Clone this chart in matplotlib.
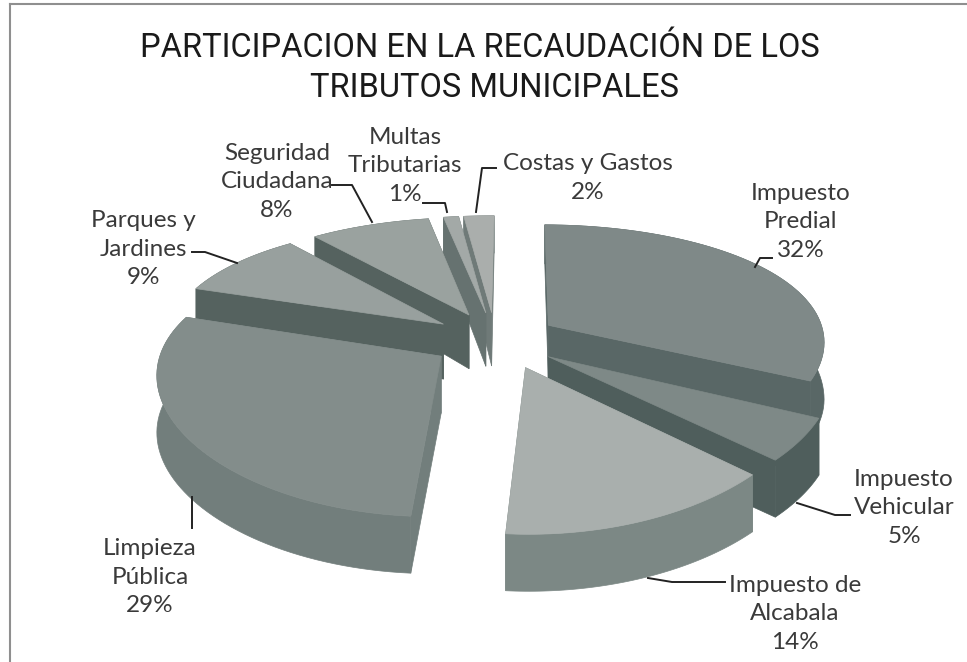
import numpy as np
import matplotlib
matplotlib.use("Agg")
import matplotlib.pyplot as plt
from matplotlib.patches import Polygon

title_lines = ["PARTICIPACION EN LA RECAUDACIÓN DE LOS", "TRIBUTOS MUNICIPALES"]
categories = ["Impuesto\nPredial", "Impuesto\nVehicular", "Impuesto de\nAlcabala",
              "Limpieza\nPública", "Parques y\nJardines", "Seguridad\nCiudadana",
              "Multas\nTributarias", "Costas y Gastos"]
shares = [32, 5, 14, 29, 9, 8, 1, 2]

# ---- style / layout ----
top_colors = ["#7f8988", "#7e8987", "#a9afad", "#838d8b", "#98a09e", "#9aa29f", "#a3a9a7", "#aaaeac"]
wall_colors = ["#596766", "#4f5e5c", "#7c8885", "#727e7c", "#55625f", "#55625f", "#667270", "#6f7a78"]
x_nudge = [0, 0, 7, 0, 0, 0, 0, 0]
label_pos = [(801, 222), (904, 508), (795, 614), (150, 577), (143, 249), (277, 182), (405, 166), (588, 178)]
leaders = [[(755, 267), (760, 258), (772, 258)], [(797, 503), (835, 515), (850, 515)],
           [(648, 578), (672, 582), (725, 582)], [(192, 497), (192, 528)],
           [(192, 252), (205, 252), (237, 263)], [(332, 185), (352, 185), (372, 222)],
           [(423, 203), (445, 203), (447, 212)], [(496, 168), (482, 168), (476, 212)]]
title_pos = [(480, 48), (495, 88)]
CX, CY, RX, RY, PX, PY, EXPLODE, START = 495, 340, 277, 124, 0.12, 0.185, 0.23, 0.5
FRONT_DEPTH, BACK_FALL = 57, 16

fig = plt.figure(figsize=(9.67, 6.62), dpi=100, facecolor="white")
ax = fig.add_axes([0, 0, 1, 1])
ax.set_xlim(0, 967)
ax.set_ylim(662, 0)
ax.axis("off")


def project(u, v):
    return CX + RX * u / (1 + PX * v), CY - RY * v / (1 + PY * v)


def depth(v):
    return FRONT_DEPTH - BACK_FALL * np.maximum(v, 0)


edges = START + np.cumsum([0] + shares) * 3.6
slices = []
for i in range(len(shares)):
    a0, a1 = np.radians(edges[i]), np.radians(edges[i + 1])
    mid = (a0 + a1) / 2
    ou, ov = EXPLODE * np.sin(mid), EXPLODE * np.cos(mid)
    t = np.linspace(a0, a1, 60)
    vv = ov + np.cos(t)
    rx, ry = project(ou + np.sin(t), vv)
    tx, ty = project(ou, ov)
    slices.append((np.cos(mid), i, rx + x_nudge[i], ry, ry + depth(vv), tx + x_nudge[i], ty, ty + depth(ov)))

for _, i, rx, ry, rb, tx, ty, tb in sorted(slices, key=lambda s: -s[0]):
    wall = dict(facecolor=wall_colors[i], edgecolor=wall_colors[i], linewidth=0.5)
    for k in (0, -1):
        ax.add_patch(Polygon([(tx, ty), (rx[k], ry[k]), (rx[k], rb[k]), (tx, tb)], **wall))
    ax.add_patch(Polygon(np.r_[np.c_[rx, ry], np.c_[rx[::-1], rb[::-1]]], **wall))
    ax.add_patch(Polygon(np.r_[[(tx, ty)], np.c_[rx, ry]], facecolor=top_colors[i],
                         edgecolor=top_colors[i], linewidth=0.5))

for cat, share, (x, y), pts in zip(categories, shares, label_pos, leaders):
    ax.text(x, y, f"{cat}\n{share}%", ha="center", va="center", family="Lato", fontsize=17.5,
            color="#3a3a3a", linespacing=1.45)
    ax.plot(*zip(*pts), color="#222222", lw=1.4)

for line, (x, y) in zip(title_lines, title_pos):
    ax.text(x, y, line, ha="center", va="center", family="Roboto", fontsize=23.5,
            color="#1a1a1a")
ax.plot([10, 967], [4, 4], color="#8f8f8f", lw=1.5)
ax.plot([10, 10], [4, 662], color="#8f8f8f", lw=1.5)
fig.savefig("out.png", dpi=100)
